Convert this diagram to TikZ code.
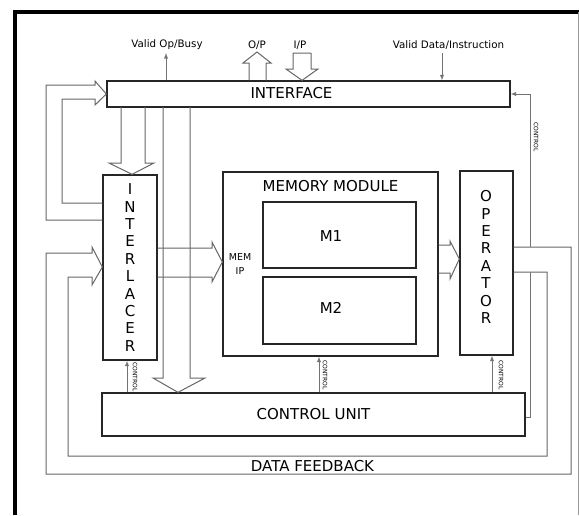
\documentclass[tikz,border=0pt]{standalone}
\usepackage{fontspec}
\setmainfont{DejaVu Sans}
\usetikzlibrary{arrows}
\usetikzlibrary{positioning,shapes,fit}

\begin{document}
\begin{tikzpicture}[%
        x=1pt, y=-1pt, >=latex,
        every node/.style={inner sep=0pt},
        blk/.style={draw=black!85, line width=1.3pt},
        fat/.style={draw=black!60, line width=1pt},
        wire/.style={draw=black!55, line width=0.9pt},
        ctl/.style={draw=black!55, line width=0.9pt, ->},
        big/.style={font=\fontsize{15}{17.4}\selectfont},
        small/.style={font=\fontsize{10.3}{13}\selectfont},
        tiny/.style={font=\fontsize{6}{7}\selectfont, rotate=-90}
      ]
      \useasboundingbox (0,0) rectangle (579,515);
      % frame
      \draw[line width=3.5pt] (15,515) -- (15,12) -- (579,12);
      \draw[black!40, line width=0.8pt] (578,12) -- (578,515);

      % blocks
      \node [blk, minimum width=403pt, minimum height=26pt] (iface) at (308.5,94) {};
      \node [big] (ifacet) at (291.5,93) {INTERFACE};
      \node [blk, minimum width=54pt, minimum height=185pt, big, align=center] (intl) at (130,267.5)
        {I\\N\\T\\E\\R\\L\\A\\C\\E\\R};
      \node [blk, minimum width=215pt, minimum height=184pt] (mem) at (330.5,264) {};
      \node [big] (memt) at (330.5,186) {MEMORY MODULE};
      \node [blk, minimum width=153pt, minimum height=66pt] (m1) at (339.5,235) {};
      \node [big] (m1t) at (331,236) {M1};
      \node [blk, minimum width=153pt, minimum height=67pt] (m2) at (339.5,310.5) {};
      \node [big] (m2t) at (331,308) {M2};
      \node [blk, minimum width=53pt, minimum height=184pt] (oper) at (486.5,263) {};
      \node [big, align=center] (opert) at (486,257) {O\\P\\E\\R\\A\\T\\O\\R};
      \node [blk, minimum width=423pt, minimum height=43pt, big] (cu) at (313.5,414.5) {CONTROL UNIT};

      % texts
      \node [small] (busy) at (167,45) {Valid Op/Busy};
      \node [small] (op) at (257,45) {O/P};
      \node [small] (ip) at (300,45) {I/P};
      \node [small] (vdata) at (448.5,45) {Valid Data/Instruction};
      \node [font=\fontsize{9.5}{13.5}\selectfont, align=center] (memip) at (240,264) {MEM\\IP};
      \node [big] (fb) at (312.5,466) {DATA FEEDBACK};
      \node [tiny] (c1) at (135,377) {CONTROL};
      \node [tiny] (c2) at (325,375) {CONTROL};
      \node [tiny] (c3) at (501,375) {CONTROL};
      \node [tiny] (c4) at (536,137) {CONTROL};

      % top signals
      \draw[ctl] (iface.north -| 166,0) -- (166,53);
      \draw[ctl] (442,53) -- (iface.north -| 442,0);
      \draw[fat] (iface.north -| 249,0) |- (243,63) -- (257,52) -- (271,63) -| (iface.north -| 266,0);
      \draw[fat] (311,53) -- (293,53) |- (286,69) -- (iface.north -| 302,0) -- (318,69) -| (311,53);

      % fat arrows
      \draw[fat] (121,107) |- (109,163) -- ([xshift=2pt]intl.north) -- (154,163) -| (145,107);
      \draw[fat] (163,107) |- (153,378) -- (cu.north -| 178,0) -- (205,378) -| (190,107);
      \draw[fat] (intl.east |- 0,248) -| (212,242) -- (mem.west |- 0,262) -- (212,282) |- (intl.east |- 0,277);
      \draw[fat] (mem.east |- 0,245) -| (450,241) -- (oper.west |- 0,259) -- (450,279) |- (mem.east |- 0,273);

      % loops back to interface and interlacer
      \draw[fat] (intl.west |- 0,220) -| (46,85) -- (95,85) -- (95,81) -- (iface.west)
        -- (95,105) -- (95,99) -| (62,203) -- (intl.west |- 0,203);
      \draw[fat] (oper.east |- 0,247) -| (571,474) -| (46,253) -- (92,253) -- (92,247)
        -- (intl.west |- 0,267) -- (92,285) -- (92,277) -| (68,456) -| (547,272) -- (oper.east |- 0,272);

      % control lines
      \draw[ctl] (530,247) |- (iface.east);
      \draw[wire] (cu.east |- 0,417) -| (530,272);
      \draw[ctl] (cu.north -| 127,0) -- (intl.south -| 127,0);
      \draw[ctl] (cu.north -| 319,0) -- (mem.south -| 319,0);
      \draw[ctl] (cu.north -| 492,0) -- (oper.south -| 492,0);
    \end{tikzpicture}
\end{document}
